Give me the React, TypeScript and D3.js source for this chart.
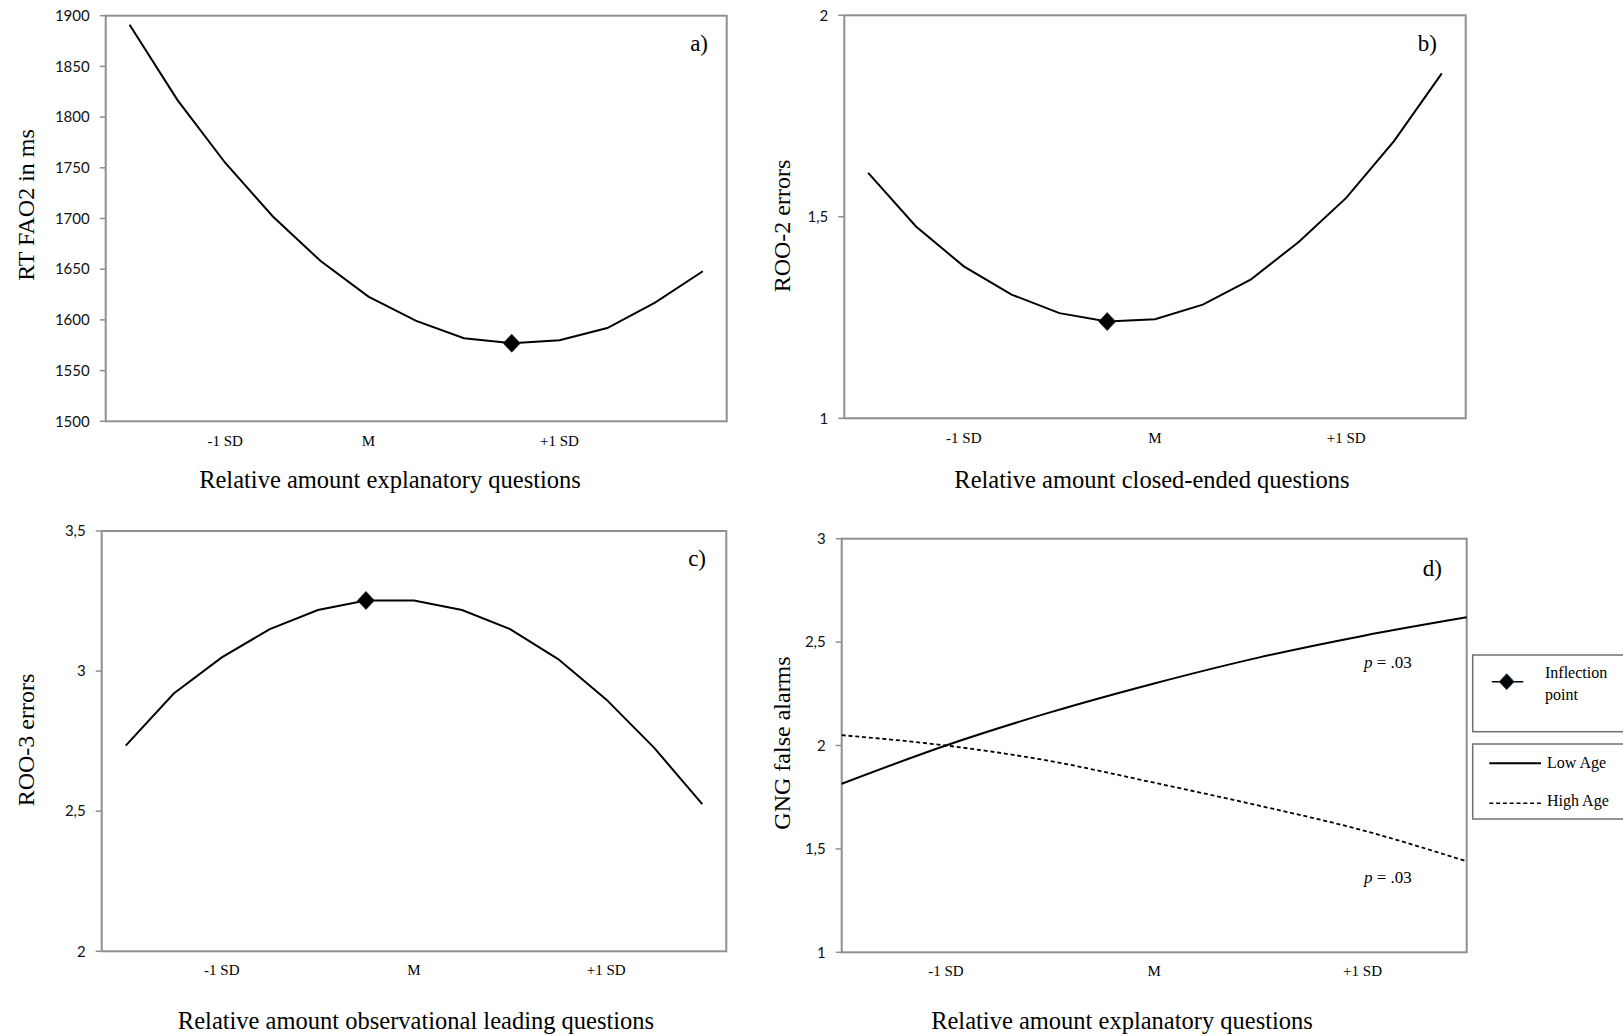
import React from "react";
import * as d3 from "d3";

// ---------- data ----------
const categories13 = d3.range(13);

const aValues = [1891, 1817, 1755, 1702, 1658, 1623, 1599, 1582, 1577, 1580, 1592, 1617, 1648];
const aInflection = 8;
const aTicks = [1500, 1550, 1600, 1650, 1700, 1750, 1800, 1850, 1900];
const aXLabels = [{ i: 2, t: "-1 SD" }, { i: 5, t: "M" }, { i: 9, t: "+1 SD" }];

const bValues = [1.609, 1.476, 1.377, 1.307, 1.261, 1.24, 1.246, 1.282, 1.344, 1.437, 1.547, 1.688, 1.856];
const bInflection = 5;
const bTicks = [1, 1.5, 2];
const bXLabels = [{ i: 2, t: "-1 SD" }, { i: 6, t: "M" }, { i: 10, t: "+1 SD" }];

const cValues = [2.734, 2.92, 3.049, 3.15, 3.218, 3.252, 3.252, 3.218, 3.15, 3.043, 2.899, 2.726, 2.525];
const cInflection = 5;
const cTicks = [2, 2.5, 3, 3.5];
const cXLabels = [{ i: 2, t: "-1 SD" }, { i: 6, t: "M" }, { i: 10, t: "+1 SD" }];

const dX = [-1.5, -1, -0.5, 0, 0.5, 1, 1.5];
const dLowAge = [1.815, 2.0, 2.16, 2.3, 2.425, 2.53, 2.62];
const dHighAge = [2.05, 2.0, 1.925, 1.82, 1.71, 1.59, 1.44];
const dTicks = [1, 1.5, 2, 2.5, 3];
const dXLabels = [{ v: -1, t: "-1 SD" }, { v: 0, t: "M" }, { v: 1, t: "+1 SD" }];

const fmt = (v: number) => String(v).replace(".", ",");

const SERIF = "'Liberation Serif', 'Times New Roman', serif";
const SANS = "Lato, 'Liberation Sans', sans-serif";
const BORDER = "#8f8f8f";

function diamond(cx: number, cy: number, hw: number, hh: number) {
  return `M${cx},${cy - hh}L${cx + hw},${cy}L${cx},${cy + hh}L${cx - hw},${cy}Z`;
}

type Box = { l: number; r: number; t: number; b: number };

function Frame({ box, y, ticks }: { box: Box; y: d3.ScaleLinear<number, number>; ticks: number[] }) {
  return (
    <g>
      <rect x={box.l} y={box.t} width={box.r - box.l} height={box.b - box.t} fill="none" stroke={BORDER} strokeWidth={2} />
      {ticks.map((t) => (
        <g key={t}>
          <line x1={box.l - 6} x2={box.l} y1={y(t)} y2={y(t)} stroke={BORDER} strokeWidth={1.5} />
          <text x={box.l - 16} y={y(t)} dy="0.35em" textAnchor="end" fontFamily={SANS} fontSize={15} fill="#111">
            {fmt(t)}
          </text>
        </g>
      ))}
    </g>
  );
}

function CurvePanel(props: {
  box: Box;
  values: number[];
  domain: [number, number];
  ticks: number[];
  inflection: number;
  xLabels: { i: number; t: string }[];
  xLabelY: number;
  xTitle: string;
  xTitleX: number;
  xTitleY: number;
  yTitle: string;
  yTitleX: number;
  yTitleY: number;
  tag: string;
  tagX: number;
  tagY: number;
}) {
  const { box, values } = props;
  const x = d3.scalePoint<number>().domain(categories13).range([box.l, box.r]).padding(0.5);
  const y = d3.scaleLinear().domain(props.domain).range([box.b, box.t]);
  const line = d3
    .line<number>()
    .x((_, i) => x(i) as number)
    .y((v) => y(v));
  const ix = x(props.inflection) as number;
  const iy = y(values[props.inflection]);
  return (
    <g>
      <Frame box={box} y={y} ticks={props.ticks} />
      <path d={line(values) || ""} fill="none" stroke="#000" strokeWidth={2} />
      <path d={diamond(ix, iy, 8.5, 9)} fill="#000" stroke="#1b2a3a" strokeWidth={0.8} />
      {props.xLabels.map((l) => (
        <text key={l.t} x={x(l.i)} y={props.xLabelY} textAnchor="middle" fontFamily={SERIF} fontSize={15}>
          {l.t}
        </text>
      ))}
      <text x={props.xTitleX} y={props.xTitleY} textAnchor="middle" fontFamily={SERIF} fontSize={24.5}>
        {props.xTitle}
      </text>
      <text
        transform={`translate(${props.yTitleX},${props.yTitleY}) rotate(-90)`}
        textAnchor="middle"
        fontFamily={SERIF}
        fontSize={24}
      >
        {props.yTitle}
      </text>
      <text x={props.tagX} y={props.tagY} textAnchor="end" fontFamily={SERIF} fontSize={23}>
        {props.tag}
      </text>
    </g>
  );
}

function PanelD() {
  const box: Box = { l: 841.7, r: 1466.7, t: 538.7, b: 952.3 };
  const x = d3.scaleLinear().domain([-1.5, 1.5]).range([box.l, box.r]);
  const y = d3.scaleLinear().domain([1, 3]).range([box.b, box.t]);
  const line = d3
    .line<number>()
    .x((_, i) => x(dX[i]))
    .y((v) => y(v))
    .curve(d3.curveMonotoneX);
  return (
    <g>
      <Frame box={box} y={y} ticks={dTicks} />
      <path d={line(dLowAge) || ""} fill="none" stroke="#000" strokeWidth={2} />
      <path d={line(dHighAge) || ""} fill="none" stroke="#000" strokeWidth={1.8} strokeDasharray="4,2.8" />
      {dXLabels.map((l) => (
        <text key={l.t} x={x(l.v)} y={976} textAnchor="middle" fontFamily={SERIF} fontSize={15}>
          {l.t}
        </text>
      ))}
      <text x={1122} y={1029} textAnchor="middle" fontFamily={SERIF} fontSize={24.5}>
        Relative amount explanatory questions
      </text>
      <text transform={`translate(790,743) rotate(-90)`} textAnchor="middle" fontFamily={SERIF} fontSize={24}>
        GNG false alarms
      </text>
      <text x={1442} y={576} textAnchor="end" fontFamily={SERIF} fontSize={23}>
        d)
      </text>
      {[668, 883].map((yy) => (
        <text key={yy} x={1364} y={yy} fontFamily={SERIF} fontSize={17}>
          <tspan fontStyle="italic">p</tspan> = .03
        </text>
      ))}
      {/* legend */}
      <rect x={1472.7} y={655} width={200} height={76.7} fill="#fff" stroke="#707070" strokeWidth={1.5} />
      <line x1={1491.7} x2={1523.3} y1={681.7} y2={681.7} stroke="#000" strokeWidth={1.5} />
      <path d={diamond(1506.7, 681.7, 7.5, 8)} fill="#000" stroke="#2a4a6e" strokeWidth={1} />
      <text x={1545} y={678} fontFamily={SERIF} fontSize={16}>
        Inflection
      </text>
      <text x={1545} y={700} fontFamily={SERIF} fontSize={16}>
        point
      </text>
      <rect x={1472.7} y={744} width={200} height={75} fill="#fff" stroke="#707070" strokeWidth={1.5} />
      <line x1={1489.3} x2={1541} y1={763.3} y2={763.3} stroke="#000" strokeWidth={2} />
      <text x={1547} y={767.5} fontFamily={SERIF} fontSize={16}>
        Low Age
      </text>
      <line x1={1489.3} x2={1541} y1={803.3} y2={803.3} stroke="#000" strokeWidth={1.6} strokeDasharray="4,2.8" />
      <text x={1547} y={806} fontFamily={SERIF} fontSize={16}>
        High Age
      </text>
    </g>
  );
}

export default function App() {
  return (
    <svg
      width={1623}
      height={1036}
      style={{ position: "absolute", left: 0, top: 0, background: "#fff" }}
    >
      <rect x={0} y={0} width={1623} height={1036} fill="#fff" />
      <CurvePanel
        box={{ l: 105.7, r: 726.7, t: 15.7, b: 421.3 }}
        values={aValues}
        domain={[1500, 1900]}
        ticks={aTicks}
        inflection={aInflection}
        xLabels={aXLabels}
        xLabelY={446}
        xTitle="Relative amount explanatory questions"
        xTitleX={390}
        xTitleY={488}
        yTitle="RT FAO2 in ms"
        yTitleX={33.5}
        yTitleY={205}
        tag="a)"
        tagX={708}
        tagY={51}
      />
      <CurvePanel
        box={{ l: 844.3, r: 1465.7, t: 15.3, b: 418.3 }}
        values={bValues}
        domain={[1, 2]}
        ticks={bTicks}
        inflection={bInflection}
        xLabels={bXLabels}
        xLabelY={443}
        xTitle="Relative amount closed-ended questions"
        xTitleX={1152}
        xTitleY={488}
        yTitle="ROO-2 errors"
        yTitleX={790}
        yTitleY={226}
        tag="b)"
        tagX={1437}
        tagY={51}
      />
      <CurvePanel
        box={{ l: 101.7, r: 726.3, t: 531, b: 951.3 }}
        values={cValues}
        domain={[2, 3.5]}
        ticks={cTicks}
        inflection={cInflection}
        xLabels={cXLabels}
        xLabelY={975}
        xTitle="Relative amount observational leading questions"
        xTitleX={416}
        xTitleY={1029}
        yTitle="ROO-3 errors"
        yTitleX={33.5}
        yTitleY={740}
        tag="c)"
        tagX={706}
        tagY={566}
      />
      <PanelD />
    </svg>
  );
}
